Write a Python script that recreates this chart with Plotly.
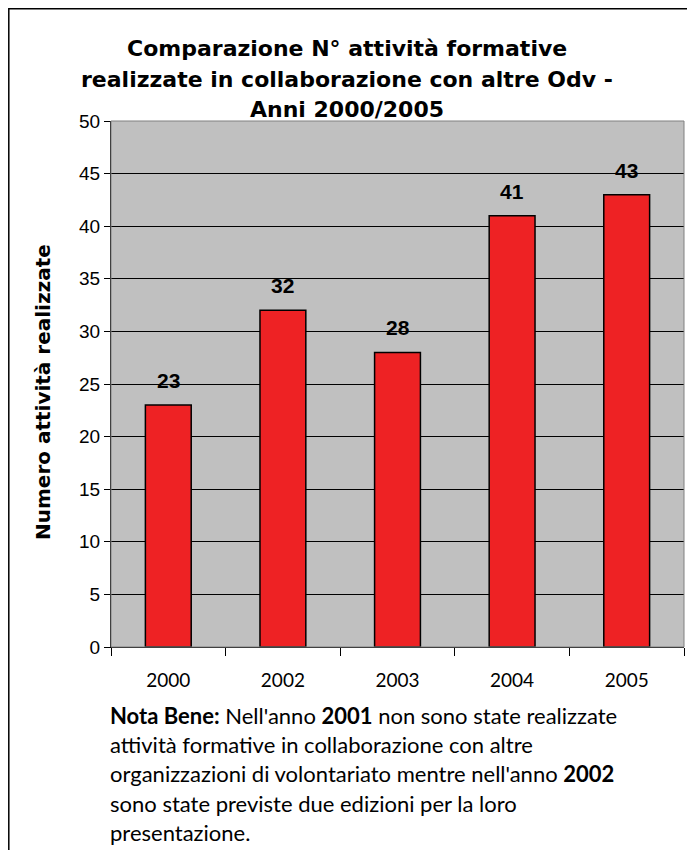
import plotly.graph_objects as go

years = ["2000", "2002", "2003", "2004", "2005"]
values = [23, 32, 28, 41, 43]
y_ticks = [0, 5, 10, 15, 20, 25, 30, 35, 40, 45, 50]

title_lines = [
    "Comparazione N° attività formative",
    "realizzate in collaborazione con altre Odv -",
    "Anni 2000/2005",
]
note_lines = [
    "<b>Nota Bene:</b> Nell'anno <b>2001</b> non sono state realizzate",
    "attività formative in collaborazione con altre",
    "organizzazioni di volontariato mentre nell'anno <b>2002</b>",
    "sono state previste due edizioni per la loro",
    "presentazione.",
]
y_title = "Numero attività realizzate"

# figure geometry (page has an 8px body margin)
W, H = 687, 842
L, T, R, B = 103, 113, 11, 203
PW, PH = W - L - R, H - T - B


def px(xp):
    return (xp - L) / PW


def py(yp):
    return (H - B - yp) / PH


fig = go.Figure()
fig.add_trace(go.Bar(
    x=years, y=values,
    marker=dict(color="#EE2224", line=dict(color="black", width=1.5)),
    hoverinfo="skip",
))

for i, v in enumerate(values):
    fig.add_annotation(x=i, y=v, text=f"<b>{v}</b>", showarrow=False,
                       yanchor="bottom", yshift=11,
                       font=dict(family="Liberation Sans, Arial", size=21, color="black"))

fig.add_annotation(xref="paper", yref="paper", x=px(35), y=py(384),
                   text=f"<b>{y_title}</b>", textangle=-90, showarrow=False,
                   xanchor="center", yanchor="middle",
                   font=dict(family="DejaVu Sans, Liberation Sans", size=20, color="black"))

for line, yc in zip(title_lines, [40, 71, 101]):
    fig.add_annotation(xref="paper", yref="paper", x=px(339), y=py(yc),
                       text=f"<b>{line}</b>", showarrow=False,
                       xanchor="center", yanchor="middle",
                       font=dict(family="DejaVu Sans", size=22, color="black"))

for line, yc in zip(note_lines, [707, 736, 765, 795, 824]):
    fig.add_annotation(xref="paper", yref="paper", x=px(100), y=py(yc),
                       text=line, showarrow=False,
                       xanchor="left", yanchor="middle", align="left",
                       font=dict(family="Lato", size=22, color="black"))

# outer frame
fig.add_shape(type="rect", xref="paper", yref="paper",
              x0=px(0.8), x1=1.3, y0=-0.6, y1=py(0.8),
              line=dict(color="black", width=1.5), fillcolor="rgba(0,0,0,0)", layer="below")
# plot area border
fig.add_shape(type="rect", xref="paper", yref="paper", x0=0, x1=1, y0=0, y1=1,
              line=dict(color="#808080", width=1), layer="above")

fig.update_layout(
    width=W, height=H, autosize=False,
    margin=dict(l=L, r=R, t=T, b=B),
    paper_bgcolor="white", plot_bgcolor="#C0C0C0",
    showlegend=False,
    bargap=0.6,
    xaxis=dict(type="category", range=[-0.5, len(years) - 0.5],
               showline=True, linecolor="black", linewidth=1,
               ticks="outside", tickson="boundaries", ticklen=8, tickcolor="black",
               ticklabelstandoff=16,
               tickfont=dict(family="Lato", size=19, color="black"),
               showgrid=False, fixedrange=True),
    yaxis=dict(range=[0, 50], tickvals=y_ticks, showline=True, linecolor="black", linewidth=1,
               ticks="outside", ticklen=6, tickcolor="black",
               tickfont=dict(family="Liberation Sans, Arial", size=19, color="black"),
               showgrid=True, gridcolor="black", gridwidth=1, zeroline=False, fixedrange=True),
)

fig.write_html("out.html")
